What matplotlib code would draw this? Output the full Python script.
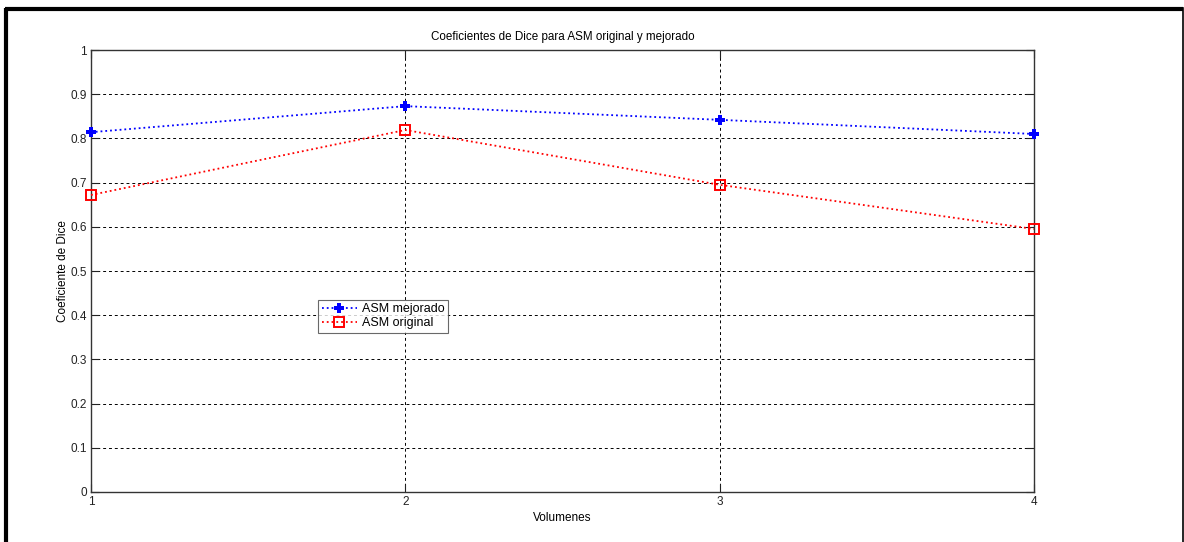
import matplotlib
matplotlib.use("Agg")
import matplotlib.pyplot as plt
from matplotlib.lines import Line2D

plt.rcParams['font.family'] = ['Liberation Sans', 'DejaVu Sans']

# data
volumes = [1, 2, 3, 4]
asm_mejorado = [0.814, 0.873, 0.842, 0.810]
asm_original = [0.672, 0.819, 0.695, 0.595]
y_ticks = [0, 0.1, 0.2, 0.3, 0.4, 0.5, 0.6, 0.7, 0.8, 0.9, 1]
y_tick_labels = ['0', '0.1', '0.2', '0.3', '0.4', '0.5', '0.6', '0.7', '0.8', '0.9', '1']


def main():
    fig = plt.figure(figsize=(11.84, 5.42), dpi=100)
    ax = fig.add_axes([91 / 1184, 1 - 492 / 542, (1034 - 91) / 1184, (492 - 50) / 542])

    ax.plot(volumes, asm_mejorado, color='blue', linestyle=':', linewidth=1.3,
            marker='P', markersize=6.5, markeredgewidth=0, label='ASM mejorado',
            clip_on=False, zorder=3)
    ax.plot(volumes, asm_original, color='red', linestyle=':', linewidth=1.3,
            marker='s', markersize=6.5, markerfacecolor='none', markeredgewidth=1.4,
            label='ASM original', clip_on=False, zorder=3)

    ax.set_xlim(1, 4)
    ax.set_ylim(0, 1)
    ax.set_xticks(volumes)
    ax.set_yticks(y_ticks)
    ax.set_yticklabels(y_tick_labels)
    ax.tick_params(direction='in', length=6, width=0.8, labelsize=8.5,
                   top=True, right=True, colors='#222222', pad=3)
    ax.grid(True, color='black', linestyle=(0, (3, 3)), linewidth=0.7)

    for s in ax.spines.values():
        s.set_color('#333333')
        s.set_linewidth(1.0)

    ax.set_title('Coeficientes de Dice para ASM original y mejorado', fontsize=8.4, pad=7)
    ax.set_xlabel('Volumenes', fontsize=8.5, labelpad=3)
    ax.set_ylabel('Coeficiente de Dice', fontsize=8.5, labelpad=1)

    leg = ax.legend(loc='lower left',
                    bbox_to_anchor=(318 / 1184, 1 - 333 / 542, (446 - 318) / 1184, (333 - 297) / 542),
                    bbox_transform=fig.transFigure, fontsize=9, frameon=True, fancybox=False,
                    borderpad=0.3, labelspacing=0.15, handlelength=2.8, handletextpad=0.4,
                    borderaxespad=0)
    leg.get_frame().set_edgecolor('#444444')
    leg.get_frame().set_linewidth(0.8)

    # black frame around the figure
    fig.add_artist(Line2D([6 / 1184, 6 / 1184], [0, 1 - 8 / 542], transform=fig.transFigure,
                          color='black', linewidth=3, solid_capstyle='butt'))
    fig.add_artist(Line2D([4.5 / 1184, 1183 / 1184], [1 - 8.5 / 542, 1 - 8.5 / 542],
                          transform=fig.transFigure, color='black', linewidth=3,
                          solid_capstyle='butt'))
    fig.add_artist(Line2D([1182.5 / 1184, 1182.5 / 1184], [0, 1 - 8 / 542],
                          transform=fig.transFigure, color='black', linewidth=1.2))

    fig.savefig('out.png', dpi=100)


if __name__ == '__main__':
    main()
